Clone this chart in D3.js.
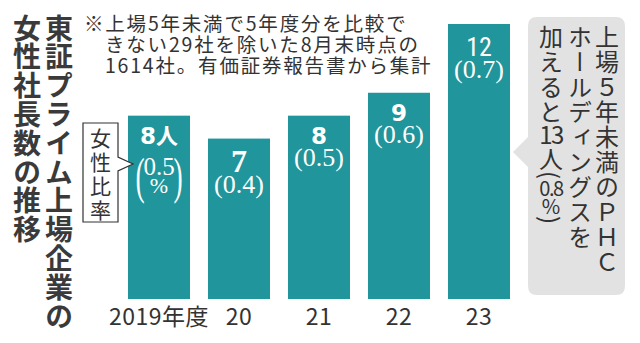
<!DOCTYPE html>
<html lang="ja">
<head>
<meta charset="utf-8">
<script src="https://cdn.jsdelivr.net/npm/d3@7"></script>
<style>
  html, body { margin: 0; padding: 0; background: #fff; }
  svg { display: block; }
  .vt { writing-mode: vertical-rl; }
</style>
</head>
<body>
<svg id="chart" width="640" height="343"></svg>
<script>
// Fiscal years on the x axis
const categories = ['2019年度', '20', '21', '22', '23'];
// Number of female presidents at Prime-listed companies
const counts = [8, 7, 8, 9, 12];
// Share of female presidents, %
const ratios = [0.5, 0.4, 0.5, 0.6, 0.7];
// Unit appended to the first count label
const countUnits = ['人', '', '', '', ''];

// Title columns (read right to left)
const titleLines = ['東証プライム上場企業の', '女性社長数の推移'];
// Footnote lines
const noteLines = [
  '※上場5年未満で5年度分を比較で',
  'きない29社を除いた8月末時点の',
  '1614社。有価証券報告書から集計'
];

const TEAL = '#20959b';
const INK = '#333333';
const JP = '"Noto Sans CJK JP", "Noto Sans", sans-serif';
const SERIF = '"Liberation Serif", "DejaVu Serif", serif';
const SANSB = '"DejaVu Sans", "Noto Sans", sans-serif';
const NARROW = '"Liberation Sans Narrow", "Roboto Condensed", Roboto, sans-serif';

const svg = d3.select('#chart');

const x = d3.scaleBand()
  .domain(categories)
  .range([128, 510])
  .paddingInner(0.225)
  .paddingOuter(0);

const y = d3.scaleLinear()
  .domain([0, 12])
  .range([299, 24]);

// ---- Title (vertical) ----
const titleX = [59, 27];
titleLines.forEach((t, i) => {
  svg.append('text')
    .attr('class', 'vt')
    .attr('x', titleX[i])
    .attr('y', 14)
    .attr('font-family', JP)
    .attr('font-weight', 700)
    .attr('font-size', 28)
    .attr('letter-spacing', 0.8)
    .attr('fill', '#3a3a3a')
    .text(t);
});

// ---- Footnote ----
noteLines.forEach((t, i) => {
  svg.append('text')
    .attr('x', i === 0 ? 84 : 105)
    .attr('y', 31 + i * 21)
    .attr('font-family', JP)
    .attr('font-size', 19.5)
    .attr('letter-spacing', 1.8)
    .attr('fill', INK)
    .text(t);
});

// ---- Bars ----
svg.append('g')
  .selectAll('rect')
  .data(categories)
  .join('rect')
  .attr('x', d => x(d))
  .attr('y', (d, i) => y(counts[i]))
  .attr('width', x.bandwidth())
  .attr('height', (d, i) => y(0) - y(counts[i]))
  .attr('fill', TEAL);

// ---- Count labels ----
const countStyle = ['sans', 'serif', 'sans', 'sans', 'narrow'];
const labels = svg.append('g').attr('fill', '#fff').attr('text-anchor', 'middle');
categories.forEach((c, i) => {
  const cx = x(c) + x.bandwidth() / 2;
  const top = y(counts[i]);
  const st = countStyle[i];
  const t = labels.append('text').attr('x', cx);
  if (st === 'serif') {
    t.attr('y', top + 33).attr('font-family', SERIF).attr('font-weight', 700).attr('font-size', 32);
  } else if (st === 'narrow') {
    t.attr('y', top + 32).attr('font-family', NARROW).attr('font-size', 26);
  } else {
    t.attr('y', top + 28).attr('font-family', SANSB).attr('font-weight', 700).attr('font-size', 23);
  }
  t.append('tspan').text(counts[i]);
  if (countUnits[i]) {
    t.append('tspan').attr('font-family', JP).attr('font-size', 22).text(countUnits[i]);
  }

  // ratio label
  if (i === 0) {
    // first bar: stacked value and percent sign inside tall parentheses
    const base = top + 59;
    labels.append('text').attr('x', cx).attr('y', base)
      .attr('font-family', SERIF).attr('font-size', 25)
      .text(ratios[i].toFixed(1));
    labels.append('text').attr('x', cx).attr('y', base + 18)
      .attr('font-family', SERIF).attr('font-size', 22)
      .text('%');
    labels.append('text')
      .attr('transform', `translate(${cx - 19},${base + 18}) scale(0.55,1)`)
      .attr('font-family', SERIF).attr('font-size', 50)
      .text('(');
    labels.append('text')
      .attr('transform', `translate(${cx + 19},${base + 18}) scale(0.55,1)`)
      .attr('font-family', SERIF).attr('font-size', 50)
      .text(')');
  } else {
    const off = st === 'sans' ? 50 : 54;
    labels.append('text').attr('x', cx).attr('y', top + off)
      .attr('font-family', SERIF).attr('font-size', 26)
      .text(`(${ratios[i].toFixed(1)})`);
  }
});

// ---- X axis ----
const axis = svg.append('g')
  .attr('transform', `translate(0,${y(0)})`)
  .call(d3.axisBottom(x).tickSize(0).tickPadding(0));
axis.select('.domain').remove();
axis.selectAll('text')
  .attr('dy', null)
  .attr('y', 26)
  .attr('font-family', JP)
  .attr('font-size', 23)
  .attr('letter-spacing', 0.5)
  .attr('fill', INK);

// ---- "女性比率" callout box ----
svg.append('path')
  .attr('d', 'M83,123 H118 V157 L133,164 L118,171 V222 H83 Z')
  .attr('fill', '#fff')
  .attr('stroke', INK)
  .attr('stroke-width', 1.2);
svg.append('text')
  .attr('class', 'vt')
  .attr('x', 100.5)
  .attr('y', 128)
  .attr('font-family', JP)
  .attr('font-size', 21)
  .attr('letter-spacing', 3)
  .attr('fill', INK)
  .text('女性比率');

// ---- Side note bubble ----
svg.append('path')
  .attr('d', 'M537,17 H616 Q625,17 625,26 V286 Q625,295 616,295 H537 Q528,295 528,286 V167 L513,152 L528,137 V26 Q528,17 537,17 Z')
  .attr('fill', '#e2e2e2');

const side = svg.append('g').attr('font-family', JP).attr('fill', INK);
side.append('text').attr('class', 'vt').attr('x', 607).attr('y', 25)
  .attr('font-size', 24).attr('letter-spacing', 1).text('上場５年未満のＰＨＣ');
side.append('text').attr('class', 'vt').attr('x', 580).attr('y', 25)
  .attr('font-size', 24).attr('letter-spacing', 1).text('ホールディングスを');
side.append('text').attr('class', 'vt').attr('x', 551).attr('y', 25)
  .attr('font-size', 24).attr('letter-spacing', 1).text('加えると');
side.append('text').attr('x', 551).attr('y', 144).attr('text-anchor', 'middle')
  .attr('font-size', 24).attr('letter-spacing', -1.5).text('13');
side.append('text').attr('class', 'vt').attr('x', 551).attr('y', 147)
  .attr('font-size', 24).text('人');
side.append('text').attr('class', 'vt').attr('x', 551).attr('y', 171)
  .attr('font-size', 24).text('(');
side.append('text').attr('x', 551).attr('y', 196).attr('text-anchor', 'middle')
  .attr('font-size', 20).attr('letter-spacing', -1.5).text('0.8');
side.append('text').attr('x', 551).attr('y', 214).attr('text-anchor', 'middle')
  .attr('font-size', 20).text('%');
side.append('text').attr('class', 'vt').attr('x', 551).attr('y', 216)
  .attr('font-size', 24).text(')');
</script>
</body>
</html>
